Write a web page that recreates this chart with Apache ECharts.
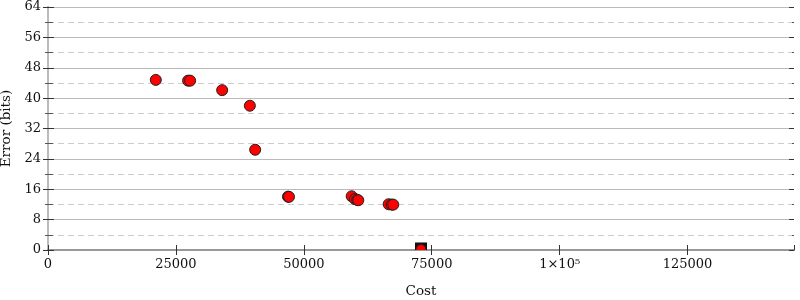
<!DOCTYPE html>
<html>
<head>
<meta charset="utf-8">
<script src="https://cdn.jsdelivr.net/npm/echarts@6/dist/echarts.min.js"></script>
<style>html,body{margin:0;padding:0;background:#fff}#c{width:800px;height:300px}</style>
</head>
<body>
<div id="c"></div>
<script>
// Data
var costValues  = [21070, 27380, 27780, 34040, 39450, 40490, 46900, 47100, 59350, 59990, 60440, 60640, 66580, 67170, 67480];
var errorValues = [44.8, 44.6, 44.6, 42.1, 38.0, 26.4, 14.05, 14.0, 14.15, 13.4, 13.2, 13.1, 12.05, 11.95, 11.95];
var bestCost  = [72900];
var bestError = [0.4];
var xTicks = [0, 25000, 50000, 75000, 100000, 125000];
var yTicks = [0, 8, 16, 24, 32, 40, 48, 56, 64];
var xMax = 145800;

var font = 'DejaVu Serif';
var pts = costValues.map(function (c, i) { return [c, errorValues[i]]; });
var best = bestCost.map(function (c, i) { return [c, bestError[i]]; });

function xLabel(v) {
  if (v === 100000) return '1×10⁵';
  return String(v);
}

var yCommon = {
  type: 'value', min: yTicks[0], max: yTicks[yTicks.length - 1], interval: yTicks[1] - yTicks[0]
};

var chart = echarts.init(document.getElementById('c'), null, { renderer: 'canvas' });
chart.setOption({
  animation: false,
  backgroundColor: '#fff',
  grid: { left: 48, right: 6, top: 7, bottom: 50, containLabel: false, outerBoundsMode: 'none' },
  xAxis: [{
    type: 'value', min: 0, max: xMax, interval: xTicks[1] - xTicks[0],
    name: 'Cost', nameLocation: 'middle', nameGap: 34,
    nameTextStyle: { fontFamily: font, fontSize: 13.5, color: '#111' },
    axisLine: { show: true, lineStyle: { color: '#999', width: 2 } },
    axisTick: { show: true, length: 5, lineStyle: { color: '#333' } },
    axisLabel: { fontFamily: font, fontSize: 13, color: '#111', margin: 8, showMaxLabel: false, formatter: xLabel },
    splitLine: { show: false }
  }, {
    type: 'value', min: 0, max: xMax, interval: xTicks[1] - xTicks[0], position: 'bottom',
    axisLine: { show: false },
    axisTick: { show: true, inside: true, length: 5, lineStyle: { color: '#333' } },
    axisLabel: { show: false }, splitLine: { show: false }
  }, {
    type: 'value', min: 0, max: xMax, position: 'top',
    axisLine: { show: true, lineStyle: { color: '#999', width: 2 } },
    axisTick: { show: false }, axisLabel: { show: false }, splitLine: { show: false }
  }],
  yAxis: [Object.assign({}, yCommon, {
    name: 'Error (bits)', nameLocation: 'middle', nameGap: 30, nameRotate: 90,
    nameTextStyle: { fontFamily: font, fontSize: 13.5, color: '#111' },
    axisLine: { show: true, lineStyle: { color: '#bbb', width: 2 } },
    axisTick: { show: true, length: 5, lineStyle: { color: '#333' } },
    minorTick: { show: true, splitNumber: 2, length: 3, lineStyle: { color: '#555' } },
    axisLabel: { fontFamily: font, fontSize: 13, color: '#111', margin: 7 },
    splitLine: { show: true, lineStyle: { color: '#bbb', width: 1 } },
    minorSplitLine: { show: true, lineStyle: { color: '#ccc', width: 1, type: [6, 4] } }
  }), Object.assign({}, yCommon, {
    position: 'left',
    axisLine: { show: false },
    axisTick: { show: true, inside: true, length: 5, lineStyle: { color: '#333' } },
    minorTick: { show: true, splitNumber: 2, length: 2, lineStyle: { color: '#555' } },
    axisLabel: { show: false }, splitLine: { show: false }
  }), Object.assign({}, yCommon, {
    position: 'right',
    axisLine: { show: true, lineStyle: { color: '#bbb', width: 2 } },
    axisTick: { show: true, length: 6, lineStyle: { color: '#333' } },
    minorTick: { show: true, splitNumber: 2, length: 5, lineStyle: { color: '#555' } },
    axisLabel: { show: false }, splitLine: { show: false }
  }), Object.assign({}, yCommon, {
    position: 'right',
    axisLine: { show: false },
    axisTick: { show: true, inside: true, length: 5, lineStyle: { color: '#333' } },
    minorTick: { show: true, splitNumber: 2, length: 2, lineStyle: { color: '#555' } },
    axisLabel: { show: false }, splitLine: { show: false }
  })],
  series: [{
    type: 'scatter', xAxisIndex: 0, yAxisIndex: 0,
    data: pts, symbol: 'circle', symbolSize: 11,
    itemStyle: { color: '#ff0000', borderColor: '#222', borderWidth: 1, opacity: 1 },
    z: 5
  }, {
    type: 'custom', xAxisIndex: 0, yAxisIndex: 0, clip: true,
    data: best,
    renderItem: function (params, api) {
      var p = api.coord([api.value(0), api.value(1)]);
      return {
        type: 'group',
        children: [{
          type: 'rect', shape: { x: p[0] - 6, y: p[1] - 6, width: 12, height: 12 },
          style: { fill: '#111' }
        }, {
          type: 'circle', shape: { cx: p[0], cy: p[1] + 1, r: 5 },
          style: { fill: '#ff0000', stroke: '#222', lineWidth: 1 }
        }]
      };
    },
    z: 4
  }]
});
</script>
</body>
</html>
